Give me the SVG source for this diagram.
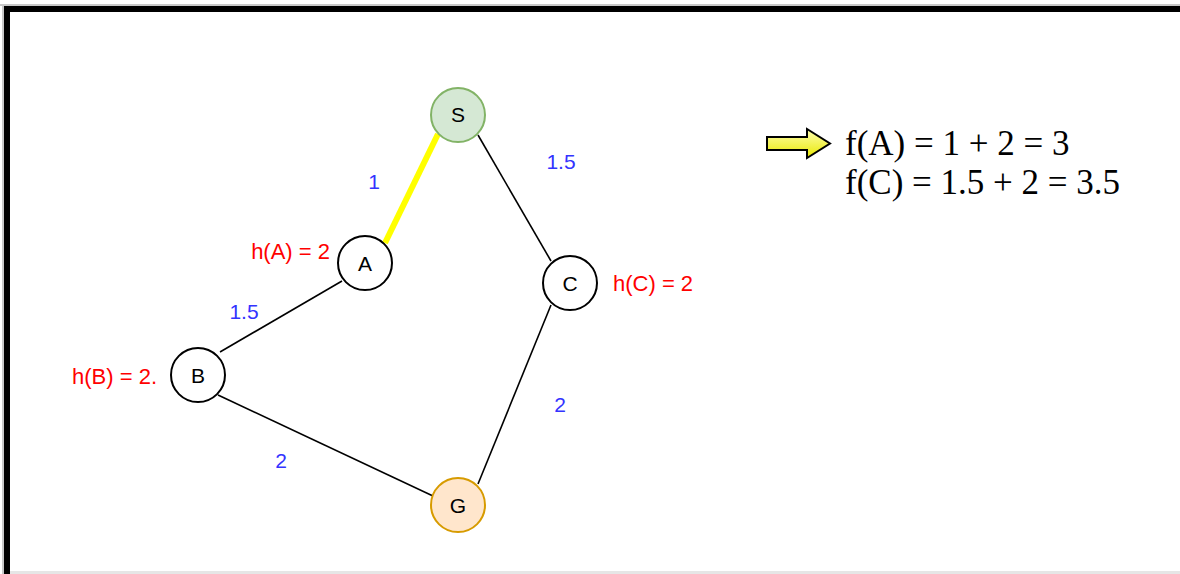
<svg xmlns="http://www.w3.org/2000/svg" width="1180" height="574" viewBox="0 0 1180 574">
<style>
.nc{fill:#fff;stroke:#000;stroke-width:2}
.edge{stroke:#000;stroke-width:1.6;fill:none}
.w{font-family:"Liberation Sans",Arial,sans-serif;font-size:21px;fill:#3333ff;text-anchor:middle}
.h{font-family:"Liberation Sans",Arial,sans-serif;font-size:22px;fill:#ff0000}
.f{font-family:"Liberation Serif","Times New Roman",serif;font-size:35px;fill:#000}
</style>
<defs>
<linearGradient id="ag" x1="0" y1="0" x2="0" y2="1">
<stop offset="0" stop-color="#ffffb0"/>
<stop offset="1" stop-color="#e8e800"/>
</linearGradient>
</defs>
<rect x="0" y="0" width="1180" height="574" fill="#fff"/>
<rect x="0" y="4" width="1180" height="2" fill="#c8c8c8"/>
<rect x="4" y="6" width="1176" height="6" fill="#000"/>
<rect x="4" y="6" width="6" height="568" fill="#000"/>
<rect x="2" y="6" width="2" height="568" fill="#c8c8c8"/>
<rect x="10" y="571" width="1170" height="3" fill="#e6e6e6"/>
<g id="connectors">
<line x1="438" y1="134" x2="385" y2="243" stroke="#ffff00" stroke-width="6"/>
<line class="edge" x1="478" y1="135" x2="551" y2="261"/>
<line class="edge" x1="342" y1="281" x2="220" y2="352"/>
<line class="edge" x1="218" y1="395" x2="433" y2="496"/>
<line class="edge" x1="551" y1="305" x2="478" y2="484"/>
<text class="w" x="374" y="189">1</text>
<text class="w" x="561" y="169">1.5</text>
<text class="w" x="244" y="319">1.5</text>
<text class="w" x="281" y="468">2</text>
<text class="w" x="560" y="412">2</text>
</g>
<g id="node-S"><circle class="nc" cx="458" cy="115" r="27" style="fill:#d5e8d4;stroke:#82b366"/><text x="458" y="122" style="font-family:'Liberation Sans',Arial,sans-serif;font-size:21px;fill:#000;text-anchor:middle">S</text></g>
<g id="node-A"><circle class="nc" cx="365" cy="263" r="27"/><text x="365" y="271" style="font-family:'Liberation Sans',Arial,sans-serif;font-size:21px;fill:#000;text-anchor:middle">A</text></g>
<g id="node-C"><circle class="nc" cx="570" cy="283" r="27"/><text x="570" y="291" style="font-family:'Liberation Sans',Arial,sans-serif;font-size:21px;fill:#000;text-anchor:middle">C</text></g>
<g id="node-B"><circle class="nc" cx="198" cy="375" r="27"/><text x="198" y="383" style="font-family:'Liberation Sans',Arial,sans-serif;font-size:21px;fill:#000;text-anchor:middle">B</text></g>
<g id="node-G"><circle class="nc" cx="458" cy="505" r="27" style="fill:#ffe6cc;stroke:#d79b00"/><text x="458" y="513" style="font-family:'Liberation Sans',Arial,sans-serif;font-size:21px;fill:#000;text-anchor:middle">G</text></g>
<text class="h" x="330" y="259" text-anchor="end">h(A) = 2</text>
<text class="h" x="613" y="291">h(C) = 2</text>
<text class="h" x="157" y="384" text-anchor="end">h(B) = 2.</text>
<g id="arrow">
<path d="M767,137 H807 V129 L830,143.5 L807,158 V150 H767 Z" fill="url(#ag)" stroke="#000" stroke-width="2" stroke-linejoin="miter"/>
</g>
<text class="f" x="845" y="155">f(A) = 1 + 2 = 3</text>
<text class="f" x="845" y="194">f(C) = 1.5 + 2 = 3.5</text>
</svg>
